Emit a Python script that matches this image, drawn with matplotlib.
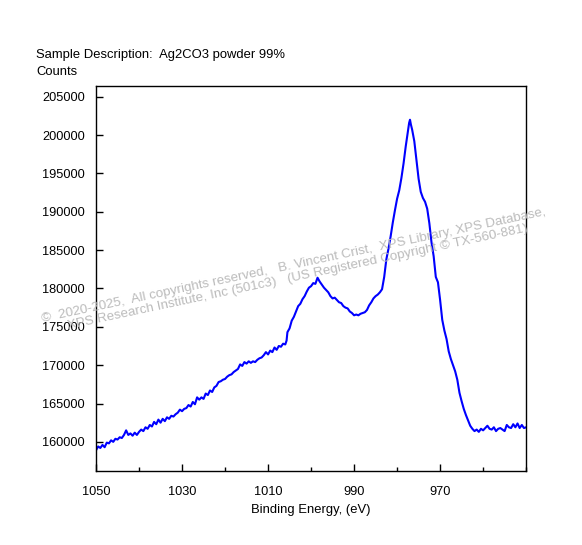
import matplotlib
matplotlib.use('Agg')
from matplotlib import pyplot as plt
from matplotlib.ticker import MultipleLocator

# binding energy (eV) and counts
# background side, 1050 -> 1006 eV
energia_fundo = [1050, 1049.5, 1049, 1048.5, 1048, 1047.5, 1047, 1046.5, 1046, 1045.5,
                 1045, 1044.5, 1044, 1043.5, 1043, 1042.5, 1042, 1041.5, 1041, 1040.5,
                 1040, 1039.5, 1039, 1038.5, 1038, 1037.5, 1037, 1036.5, 1036, 1035.5,
                 1035, 1034.5, 1034, 1033.5, 1033, 1032.5, 1032, 1031.5, 1031, 1030.5,
                 1030, 1029.5, 1029, 1028.5, 1028, 1027.5, 1027, 1026.5, 1026, 1025.5,
                 1025, 1024.5, 1024, 1023.5, 1023, 1022.5, 1022, 1021.5, 1021, 1020.5,
                 1020, 1019.5, 1019, 1018.5, 1018, 1017.5, 1017, 1016.5, 1016, 1015.5,
                 1015, 1014.5, 1014, 1013.5, 1013, 1012.5, 1012, 1011.5, 1011, 1010.5,
                 1010, 1009.5, 1009, 1008.5, 1008, 1007.5, 1007, 1006.5, 1006]
contagens_fundo = [158900, 159400, 159200, 159600, 159300, 159900, 159800, 160200, 160000, 160400,
                   160300, 160600, 160500, 160900, 161500, 160900, 161100, 160800, 161200, 160900,
                   161300, 161600, 161400, 161900, 161700, 162200, 162000, 162600, 162300, 162900,
                   162500, 163000, 162700, 163200, 163000, 163400, 163300, 163600, 163800, 164200,
                   164000, 164300, 164400, 164800, 164600, 165200, 164900, 165800, 165500, 165800,
                   165600, 166300, 166100, 166700, 166500, 167100, 167300, 167800, 167900, 168100,
                   168200, 168500, 168700, 168800, 169100, 169300, 169500, 170100, 169900, 170400,
                   170200, 170500, 170300, 170500, 170400, 170700, 170900, 171000, 171300, 171700,
                   171400, 171900, 171700, 172300, 172000, 172500, 172400, 172800, 172700]

# satellite and Ag 3d region, 1005.7 -> 962.5 eV
energia_picos = [1005.7, 1005.5, 1005, 1004.5, 1004, 1003.5, 1003, 1002.5, 1002, 1001.5,
                 1001, 1000.5, 1000, 999.5, 999, 998.5, 998, 997.5, 997, 996.5,
                 996, 995.5, 995, 994.5, 994, 993.5, 993, 992.5, 992, 991.5,
                 991, 990.5, 990, 989.5, 989, 988.5, 988, 987.5, 987, 986.5,
                 986, 985.5, 985, 984.5, 984, 983.5, 983, 982.5, 982, 981.5,
                 981, 980.5, 980, 979.5, 979, 978.5, 978, 977.5, 977.2, 977,
                 976.8, 976.5, 976, 975.5, 975, 974.5, 974, 973.5, 973, 972.5,
                 972, 971.5, 971, 970.5, 970, 969.5, 969, 968.5, 968, 967.5,
                 967, 966.5, 966, 965.5, 965, 964.5, 964, 963.5, 963, 962.5]
contagens_picos = [173200, 174300, 174800, 175800, 176300, 177000, 177700, 178000, 178600, 179000,
                   179600, 180100, 180300, 180700, 180600, 181400, 180900, 180500, 180100, 179800,
                   179500, 179000, 178700, 178800, 178500, 178200, 178100, 177700, 177500, 177400,
                   177000, 176800, 176500, 176600, 176500, 176700, 176800, 176900, 177200, 177800,
                   178200, 178700, 179000, 179200, 179500, 179900, 181500, 183800, 185200, 186800,
                   188600, 190200, 191700, 192800, 194400, 196300, 198500, 200500, 201600, 202000,
                   201400, 200700, 199200, 196800, 194300, 192600, 191800, 191300, 190400, 188500,
                   186000, 184200, 181500, 180800, 178500, 175900, 174500, 173400, 171800, 170800,
                   170000, 169200, 168100, 166400, 165300, 164300, 163500, 162800, 162100, 161700]

# flat tail, 962 -> 950 eV
energia_cauda = [962, 961.5, 961, 960.5, 960, 959.5, 959, 958.5, 958, 957.5,
                 957, 956.5, 956, 955.5, 955, 954.5, 954, 953.5, 953, 952.5,
                 952, 951.5, 951, 950.5, 950]
contagens_cauda = [161400, 161600, 161300, 161700, 161500, 161800, 162100, 161700, 161600, 161900,
                   161400, 161700, 161800, 161600, 161400, 162200, 161900, 161800, 162300, 161900,
                   162400, 161800, 162200, 161800, 161900]

TITULO = 'Sample Description:  Ag2CO3 powder 99%'
MARCA_1 = '\u00a9  2020-2025,  All copyrights reserved,   B. Vincent Crist,  XPS Library, XPS Database,'
MARCA_2 = 'XPS Research Institute, Inc (501c3)   (US Registered Copyright \u00a9 TX-560-881)'

plt.rcParams['font.family'] = ['Liberation Sans', 'DejaVu Sans']
FONTE = 9.4
FONTE_TICK = 9.2
FONTE_MARCA = 9.6

energia = energia_fundo + energia_picos + energia_cauda
contagens = contagens_fundo + contagens_picos + contagens_cauda

fig = plt.figure(figsize=(5.82, 5.45), dpi=100)
ax = fig.add_axes([0.165, 0.1358, 0.739, 0.7064])

ax.plot(energia, contagens, color='#0000ff', linewidth=1.5, zorder=2)

ax.set_xlim(1050, 950)
ax.set_ylim(156200, 206400)
ax.xaxis.set_minor_locator(MultipleLocator(10))
ax.yaxis.set_major_locator(MultipleLocator(5000))
ax.set_xticks([1050, 1030, 1010, 990, 970])
ax.tick_params(axis='both', which='major', direction='in', length=5, width=1, labelsize=FONTE_TICK, colors='black')
ax.tick_params(axis='y', pad=8)
ax.tick_params(axis='x', pad=11)
ax.tick_params(axis='x', which='minor', direction='in', length=3, width=1)
for lado in ax.spines.values():
  lado.set_linewidth(1)

ax.set_xlabel('Binding Energy, (eV)', fontsize=FONTE, labelpad=4)

fig.text(36 / 582, 1 - 55 / 545, TITULO, fontsize=FONTE, ha='left', va='center')
fig.text(36 / 582, 1 - 72 / 545, 'Counts', fontsize=FONTE, ha='left', va='center')

fig.text(42 / 582, 1 - 322 / 545, MARCA_1, fontsize=FONTE_MARCA, color='#bbbbbb', rotation=12,
         rotation_mode='anchor', ha='left', va='baseline', zorder=3)
fig.text(68 / 582, 1 - 329 / 545, MARCA_2, fontsize=FONTE_MARCA, color='#bbbbbb', rotation=12,
         rotation_mode='anchor', ha='left', va='baseline', zorder=3)

fig.savefig('out.png', dpi=100)
